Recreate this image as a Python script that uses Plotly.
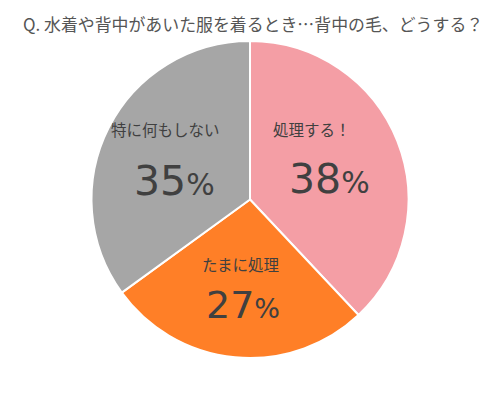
import plotly.graph_objects as go

labels = ["処理する！", "たまに処理", "特に何もしない"]
values = [38, 27, 35]
colors = ["#F49EA5", "#FF7F27", "#A6A6A6"]
title_text = "Q. 水着や背中があいた服を着るとき…背中の毛、どうする？"

W, H = 500, 397
# text styling / placement (pixels) per slice
label_pos = [(312, 129), (240, 264), (165, 129)]
num_pos = [(329, 179), (243, 305), (174, 181)]
num_size = [41, 38, 41]
pct_size = [30, 27, 30]
label_size = 15.5

fig = go.Figure()
fig.add_trace(go.Pie(
    labels=labels, values=values, sort=False, direction="clockwise", rotation=0,
    marker=dict(colors=colors, line=dict(color="white", width=2)),
    textinfo="none", hoverinfo="label+percent", showlegend=False,
    domain=dict(x=[91/W, 409/W], y=[1-358/H, 1-41/H]),
))

jp = "Noto Sans CJK JP, sans-serif"
num_font = "DejaVu Sans, sans-serif"
for lab, val, (lx, ly), (nx, ny), ns, ps in zip(labels, values, label_pos, num_pos, num_size, pct_size):
    fig.add_annotation(x=lx/W, y=1-ly/H, xref="paper", yref="paper", text=lab,
                       showarrow=False, font=dict(family=jp, size=label_size, color="#404040"),
                       xanchor="center", yanchor="middle")
    fig.add_annotation(x=nx/W, y=1-ny/H, xref="paper", yref="paper",
                       text=f"{val}<span style='font-size:{ps}px'>%</span>",
                       showarrow=False, font=dict(family=num_font, size=ns, color="#404040"),
                       xanchor="center", yanchor="middle")

fig.add_annotation(x=253/W, y=1-23/H, xref="paper", yref="paper", text=title_text,
                   showarrow=False, font=dict(family=jp, size=16.9, color="#555555"),
                   xanchor="center", yanchor="middle")

fig.update_layout(width=W, height=H, margin=dict(l=0, r=0, t=0, b=0),
                  paper_bgcolor="white", plot_bgcolor="white")
fig.write_html("out.html")
